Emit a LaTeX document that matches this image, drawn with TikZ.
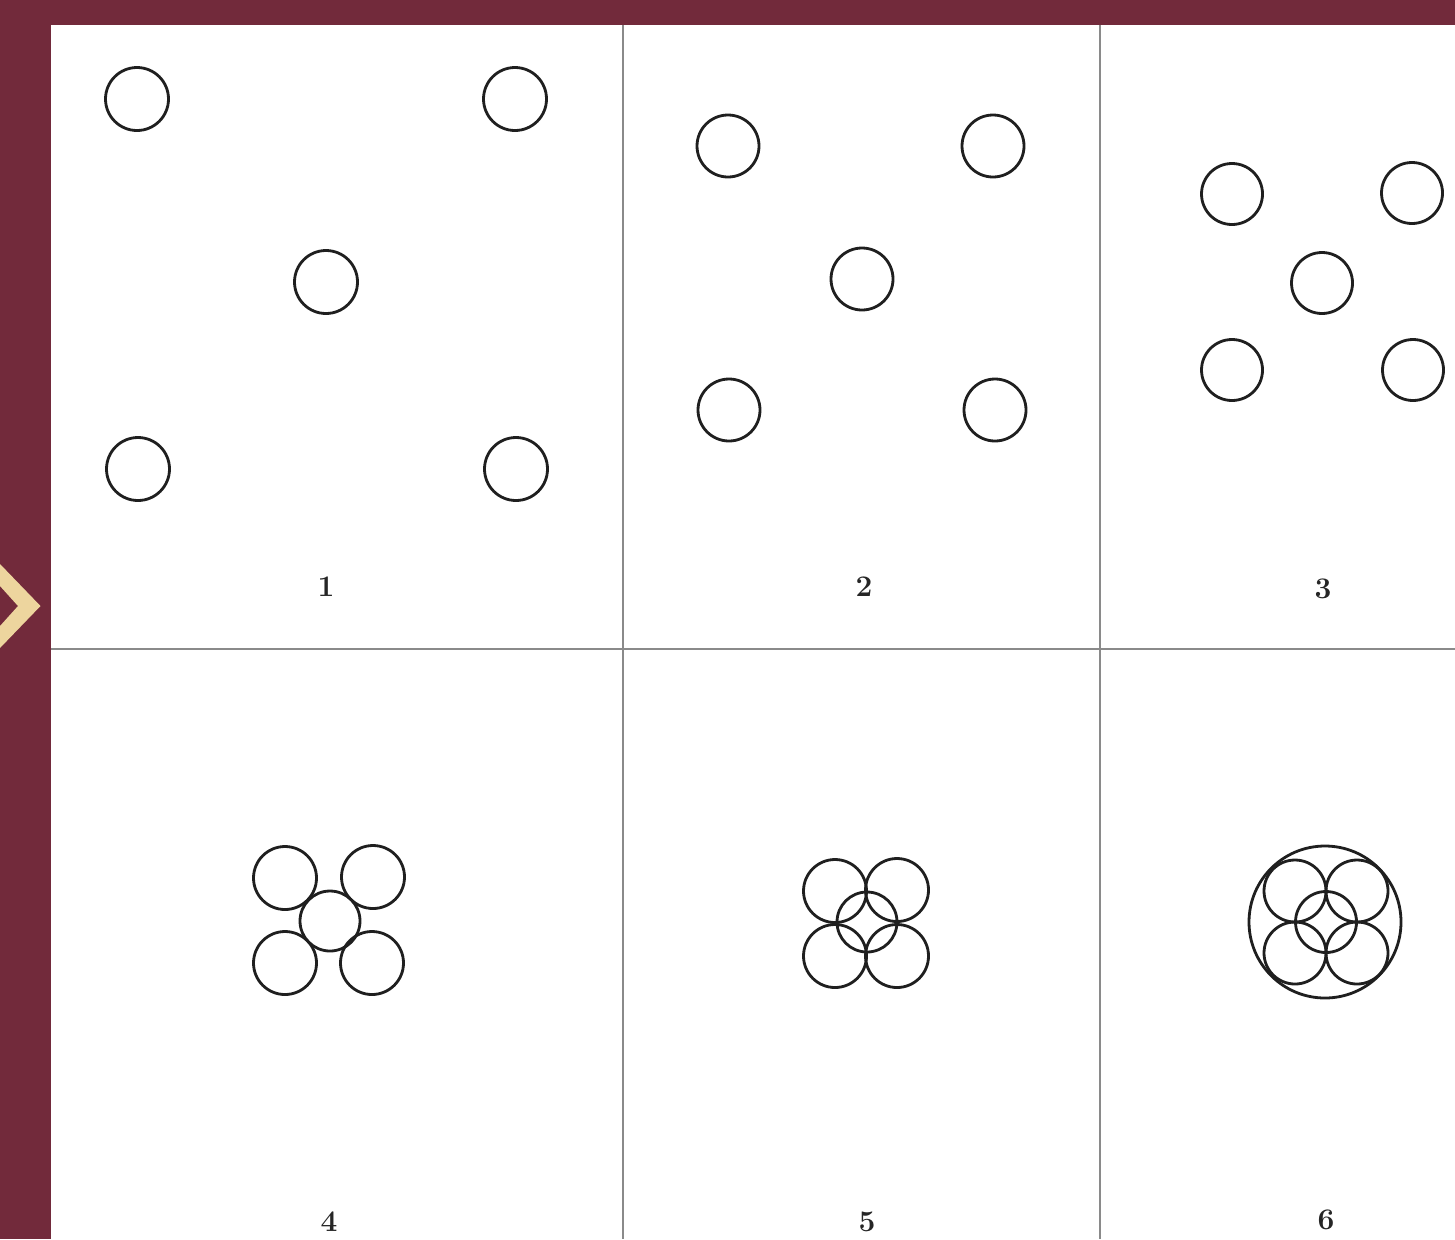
\documentclass[tikz,border=0pt]{standalone}
\usepackage{graphicx,amsmath}
\definecolor{maroon}{HTML}{722A3B}
\definecolor{gold}{HTML}{EDD59E}
\definecolor{gridgray}{HTML}{8A8A8A}
\tikzset{
  ring/.style={draw=black!88,line width=2.8bp},
  panelno/.style={font=\fontsize{30}{32}\selectfont\bfseries,text=black!85}
}
\begin{document}
\begin{tikzpicture}[x=1bp,y=-1bp]
\path[use as bounding box,fill=maroon] (0,0) rectangle (1455,1239);
\fill[white] (51,25) rectangle (1455,1239);
\fill[gold] (0,564)--(40.5,606)--(0,648)--(0,626)--(18,606)--(0,586)--cycle;
% grid
\draw[gridgray,line width=2.6bp] (623,25)--(623,1239);\draw[gridgray,line width=2.6bp] (1100,25)--(1100,1239);
\draw[gridgray,line width=2.6bp] (51,649)--(1455,649);
% panel 1
\foreach \cx/\cy in {137/99,515/99,326/282,138/469,516/469} \draw[ring] (\cx,\cy) circle (31.5);
\node[panelno] (lab1) at (326,587) {1};
% panel 2
\foreach \cx/\cy in {728/146,993/146,862/279,729/410,995/410} \draw[ring] (\cx,\cy) circle (31);
\node[panelno] (lab2) at (864,587) {2};
% panel 3
\foreach \cx/\cy in {1232/194,1412/193,1322/283,1232/370,1413/370} \draw[ring] (\cx,\cy) circle (30.5);
\node[panelno] (lab3) at (1323,589) {3};
% panel 4
\foreach \cx/\cy in {285/878,373/877,285/963,372/963} \draw[ring] (\cx,\cy) circle (31.5);
\draw[ring] (330,921) circle (30);
\node[panelno] (lab4) at (329,1222) {4};
% panel 5
\foreach \cx/\cy in {835/891,897/890,835/956,897/956} \draw[ring] (\cx,\cy) circle (31.5);
\draw[ring] (867,922) circle (30);
\node[panelno] (lab5) at (867,1222) {5};
% panel 6
\foreach \cx in {1295,1357} \foreach \cy in {891,953} \draw[ring] (\cx,\cy) circle (31);
\draw[ring] (1326,922) circle (30.5);
\draw[ring] (1325,922) circle (76);
\node[panelno] (lab6) at (1326,1220) {6};
\end{tikzpicture}
\end{document}
